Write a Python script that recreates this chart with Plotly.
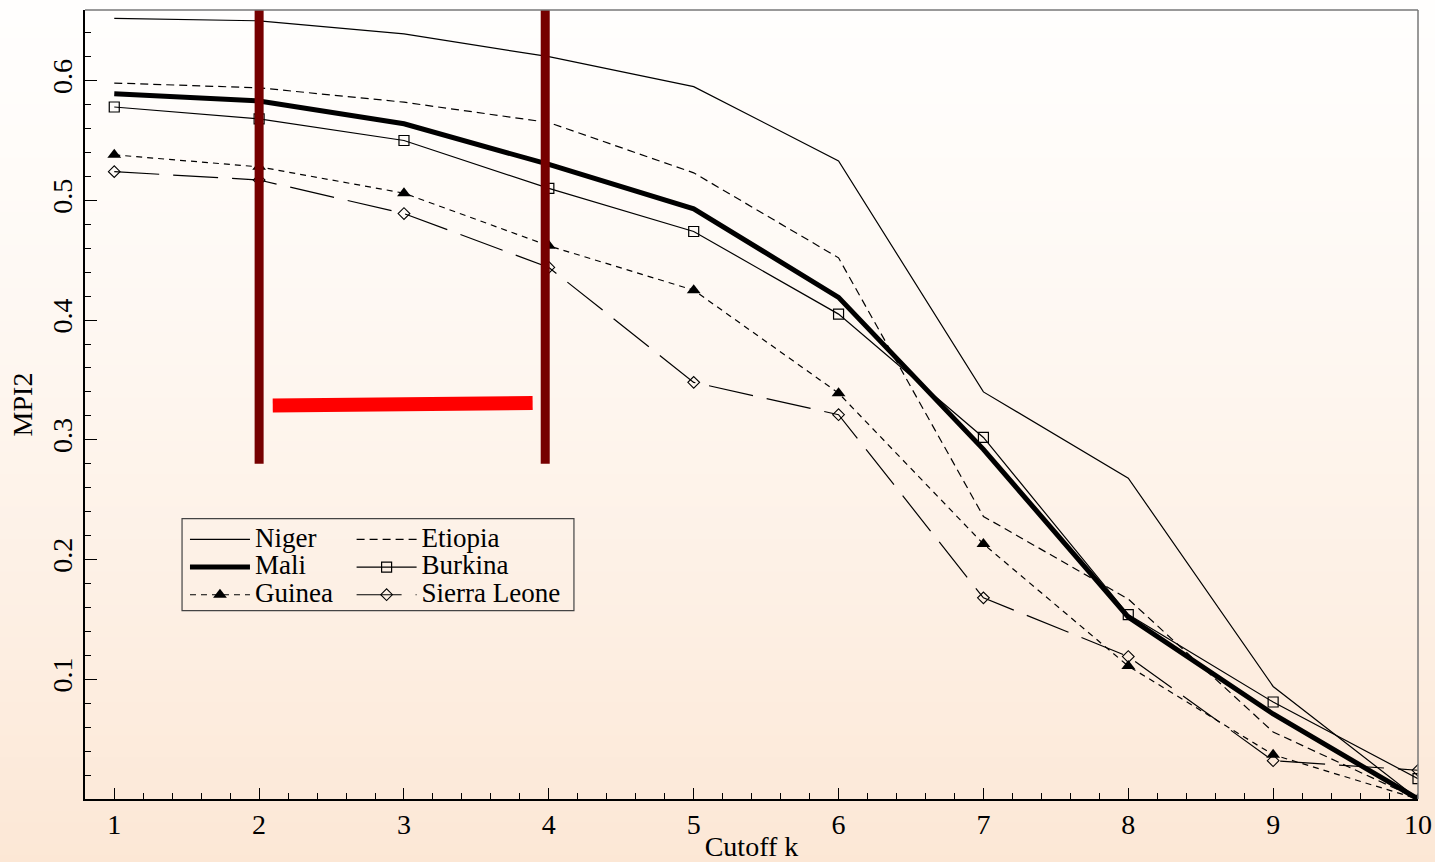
import plotly.graph_objects as go

# ---------------- data ----------------
cutoff = [1, 2, 3, 4, 5, 6, 7, 8, 9, 10]
niger = [0.652, 0.650, 0.639, 0.620, 0.595, 0.533, 0.340, 0.268, 0.094, 0.000]
etiopia = [0.598, 0.594, 0.582, 0.565, 0.523, 0.452, 0.236, 0.167, 0.056, 0.000]
mali = [0.589, 0.583, 0.564, 0.530, 0.493, 0.419, 0.292, 0.152, 0.071, 0.000]
burkina = [0.578, 0.568, 0.550, 0.510, 0.474, 0.405, 0.302, 0.154, 0.081, 0.017]
guinea = [0.538, 0.528, 0.506, 0.462, 0.425, 0.339, 0.213, 0.111, 0.037, 0.000]
sierra_leone = [0.524, 0.517, 0.489, 0.444, 0.348, 0.321, 0.168, 0.119, 0.032, 0.024]

# highlight marks (annotation strokes drawn on the chart)
bar_left_x = [2.0, 2.0]
bar_right_x = [3.975, 3.975]
bar_y = [0.280, 0.700]
red_x = [2.094, 3.888]
red_y = [0.3286, 0.3307]

x_ticks = [1, 2, 3, 4, 5, 6, 7, 8, 9, 10]
y_ticks = [0.1, 0.2, 0.3, 0.4, 0.5, 0.6]
y_tick_text = ["0.1", "0.2", "0.3", "0.4", "0.5", "0.6"]

FONT = "Liberation Serif, Times New Roman, serif"
AX_SIZE = 28
LEG_TXT = 27


def leg(name):
    return '<span style="font-size:%dpx">%s</span>' % (LEG_TXT, name)


fig = go.Figure()

fig.add_trace(go.Scatter(x=cutoff, y=niger, name=leg("Niger"), mode="lines",
                         line=dict(color="black", width=1.2), legend="legend"))
fig.add_trace(go.Scatter(x=cutoff, y=etiopia, name=leg("Etiopia"), mode="lines",
                         line=dict(color="black", width=1.2, dash="8px,5px"), legend="legend2"))
fig.add_trace(go.Scatter(x=cutoff, y=mali, name=leg("Mali"), mode="lines",
                         line=dict(color="black", width=5), legend="legend"))
fig.add_trace(go.Scatter(x=cutoff, y=burkina, name=leg("Burkina"), mode="lines+markers",
                         line=dict(color="black", width=1.2),
                         marker=dict(symbol="square-open", size=10, color="black",
                                     line=dict(width=1.2, color="black")),
                         legend="legend2"))
fig.add_trace(go.Scatter(x=cutoff, y=guinea, name=leg("Guinea"), mode="lines+markers",
                         line=dict(color="black", width=1.2, dash="6px,5px"),
                         marker=dict(symbol="triangle-up", size=12, color="black"),
                         legend="legend"))
fig.add_trace(go.Scatter(x=cutoff, y=sierra_leone, name=leg("Sierra Leone"), mode="lines+markers",
                         line=dict(color="black", width=1.2, dash="45px,14px"),
                         marker=dict(symbol="diamond-open", size=9, color="black",
                                     line=dict(width=1.1, color="black")),
                         legend="legend2"))

# highlight strokes
for bx in (bar_left_x, bar_right_x):
    fig.add_trace(go.Scatter(x=bx, y=bar_y, mode="lines", showlegend=False,
                             hoverinfo="skip", line=dict(color="#760000", width=9)))
fig.add_trace(go.Scatter(x=red_x, y=red_y, mode="lines", showlegend=False,
                         hoverinfo="skip", line=dict(color="#ff0000", width=14)))

# ---------------- background gradient ----------------
shapes = []
n = 80
top_c = (255, 254, 253)
bot_c = (252, 231, 213)
y_top = 1.02
y_bot = -0.085
for i in range(n):
    t0 = i / n
    t1 = (i + 1) / n
    tm = ((t0 + t1) / 2) ** 1.3
    c = tuple(round(top_c[k] + (bot_c[k] - top_c[k]) * tm) for k in range(3))
    shapes.append(dict(type="rect", xref="paper", yref="paper",
                       x0=-0.07, x1=1.02,
                       y0=y_top - (y_top - y_bot) * t1 - 0.002,
                       y1=y_top - (y_top - y_bot) * t0,
                       fillcolor="rgb(%d,%d,%d)" % c, line=dict(width=0),
                       layer="below"))

# top and right frame lines (gray)
shapes.append(dict(type="line", xref="paper", yref="paper", x0=0, x1=1, y0=1, y1=1,
                   line=dict(color="#777777", width=1.5)))
shapes.append(dict(type="line", xref="paper", yref="paper", x0=1, x1=1, y0=0, y1=1,
                   line=dict(color="#777777", width=1.5)))
# legend box
shapes.append(dict(type="rect", xref="paper", yref="paper",
                   x0=0.0728, x1=0.3668, y0=0.2388, y1=0.3553,
                   line=dict(color="#444444", width=1.2), fillcolor="rgba(0,0,0,0)"))

legend_common = dict(xanchor="left", yanchor="top", bgcolor="rgba(0,0,0,0)", borderwidth=0,
                     font=dict(family=FONT, size=19, color="black"),
                     itemwidth=60, tracegroupgap=0, traceorder="normal")

fig.update_layout(
    width=1435, height=862,
    margin=dict(l=85, r=17, t=10, b=63),
    paper_bgcolor="rgb(252,231,213)",
    plot_bgcolor="rgba(0,0,0,0)",
    font=dict(family=FONT, size=AX_SIZE, color="black"),
    shapes=shapes,
    legend=dict(x=0.075, y=0.353, **legend_common),
    legend2=dict(x=0.2, y=0.353, **legend_common),
    xaxis=dict(range=[0.798, 10], tickvals=x_ticks, ticks="inside", ticklen=11,
               tickwidth=1.2, tickcolor="black", automargin=False,
               minor=dict(dtick=0.2, ticks="inside", ticklen=6, tickwidth=1, tickcolor="black"),
               showgrid=False, zeroline=False, showline=True, linecolor="black", linewidth=1.5,
               tickfont=dict(family=FONT, size=AX_SIZE),
               title=dict(text="Cutoff k", font=dict(family=FONT, size=AX_SIZE), standoff=0)),
    yaxis=dict(range=[0, 0.659], tickvals=y_ticks, ticktext=y_tick_text, tickangle=-90,
               ticks="inside", ticklen=12, tickwidth=1.2, tickcolor="black", automargin=False,
               minor=dict(dtick=0.02, ticks="inside", ticklen=6, tickwidth=1, tickcolor="black"),
               showgrid=False, zeroline=False, showline=True, linecolor="black", linewidth=1.5,
               tickfont=dict(family=FONT, size=AX_SIZE),
               title=dict(text="MPI2", font=dict(family=FONT, size=AX_SIZE), standoff=6)),
)

fig.write_html("out.html")
